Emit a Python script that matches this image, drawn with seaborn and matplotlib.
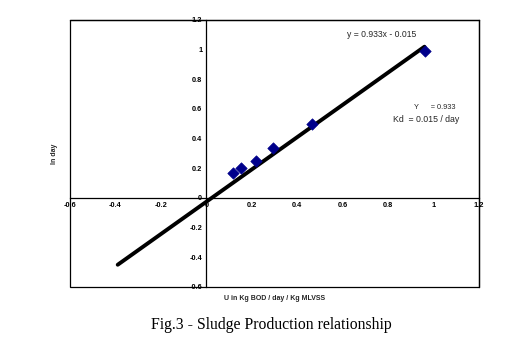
import matplotlib
matplotlib.use("Agg")
import matplotlib.pyplot as plt
from matplotlib.patches import Rectangle
import seaborn as sns
import pandas as pd

# data
x_vals = [0.117, 0.151, 0.220, 0.294, 0.463, 0.964]
y_vals = [0.167, 0.200, 0.252, 0.336, 0.499, 0.990]
trend_x = [-0.39, 0.96]
trend_y = [-0.45, 1.02]
ticks = [-0.6, -0.4, -0.2, 0, 0.2, 0.4, 0.6, 0.8, 1, 1.2]
tick_labels = ["-0.6", "-0.4", "-0.2", "0", "0.2", "0.4", "0.6", "0.8", "1", "1.2"]
eq_text = "y = 0.933x - 0.015"
y_text = "Y      = 0.933"
kd_text = "Kd  = 0.015 / day"
x_label = "U in Kg BOD / day / Kg MLVSS"
y_label = "In day"
caption = "Fig.3 - Sludge Production relationship"

sns.set_theme(style="white")
plt.rcParams['font.family'] = ['Liberation Sans', 'DejaVu Sans']

df = pd.DataFrame({"x": x_vals, "y": y_vals})
tdf = pd.DataFrame({"x": trend_x, "y": trend_y})

fig = plt.figure(figsize=(5.17, 3.49), dpi=100)
ax = fig.add_axes([0.1354, 0.1777, 0.7911, 0.765])

sns.lineplot(data=tdf, x="x", y="y", ax=ax, color="black", linewidth=2.8, zorder=2)
sns.scatterplot(data=df, x="x", y="y", ax=ax, marker="D", s=34, color="#00008B",
                edgecolor="#00008B", zorder=3)

ax.set_xlim(-0.6, 1.2)
ax.set_ylim(-0.6, 1.2)
ax.set_xticks(ticks)
ax.set_xticklabels(tick_labels)
ax.set_yticks(ticks)
ax.set_yticklabels(tick_labels)

for s in ["left", "bottom"]:
    ax.spines[s].set_position(("data", 0))
    ax.spines[s].set_color("black")
    ax.spines[s].set_linewidth(0.9)
for s in ["top", "right"]:
    ax.spines[s].set_color("black")
    ax.spines[s].set_linewidth(0.9)
ax.add_patch(Rectangle((0, 0), 1, 1, transform=ax.transAxes, fill=False,
                       edgecolor="black", linewidth=0.9, clip_on=False, zorder=5))

ax.tick_params(axis="both", which="both", direction="out", length=2, width=0.7,
               labelsize=5.3, pad=1, colors="black")
ax.tick_params(top=False, right=False)
for lab in ax.get_xticklabels() + ax.get_yticklabels():
    lab.set_fontweight("bold")

ax.set_xlabel("")
ax.set_ylabel("")
fig.text(0.531, 0.146, x_label, ha="center", va="center", fontsize=5, fontweight="bold")
fig.text(0.106, 0.56, y_label, ha="center", va="center", fontsize=5, fontweight="bold",
         rotation=90)

ax.text(0.62, 1.1, eq_text, fontsize=6.2, ha="left", va="center")
ax.text(0.915, 0.61, y_text, fontsize=5.3, ha="left", va="center")
ax.text(0.82, 0.53, kd_text, fontsize=6.3, ha="left", va="center")

fig.text(0.525, 0.068, caption, ha="center", va="center", fontsize=11.3,
         family=["Liberation Serif", "DejaVu Serif"], color="black")

fig.savefig("out.png", dpi=100)
